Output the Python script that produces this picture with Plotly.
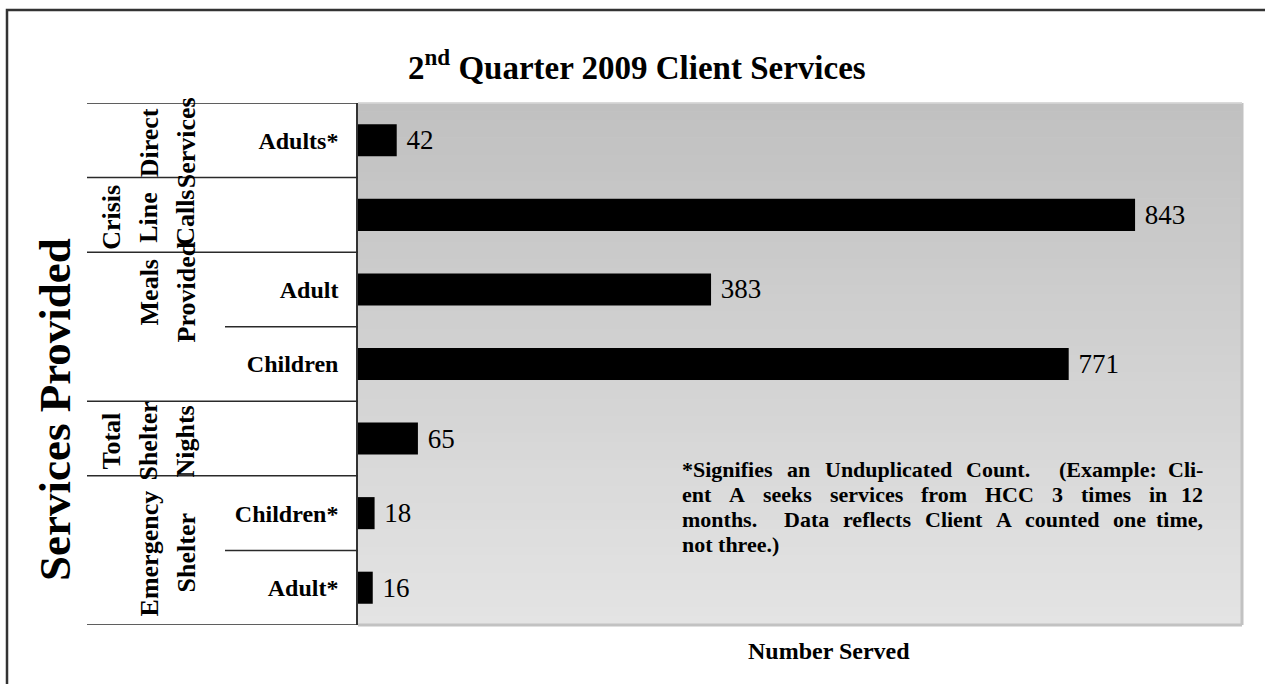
import plotly.graph_objects as go

# ---- data ----
row_labels = ["Adults*", "", "Adult", "Children", "", "Children*", "Adult*"]
values = [42, 843, 383, 771, 65, 18, 16]
value_text = ["42", "843", "383", "771", "65", "18", "16"]
# group label words (rotated), first row index, last row index
groups = [
    (["Direct", "Services"], 0, 0),
    (["Crisis", "Line", "Calls"], 1, 1),
    (["Meals", "Provided"], 2, 3),
    (["Total", "Shelter", "Nights"], 4, 4),
    (["Emergency", "Shelter"], 5, 6),
]
title_html = "2<sup>nd</sup> Quarter 2009 Client Services"
x_title = "Number Served"
y_title = "Services Provided"
note_lines = [
    "*Signifies an Unduplicated Count.  (Example: Cli-",
    "ent A seeks services from HCC 3 times in 12",
    "months.  Data reflects Client A counted one time,",
    "not three.)",
]

# ---- layout geometry (pixels) ----
W, H = 1265, 684
L, R, T, B = 358, 1242, 103, 625
pw, ph = R - L, B - T


def px2x(px):
    return (px - L) / pw


def py2y(py):
    return 1 - (py - T) / ph


SERIF = "Liberation Serif"
n = len(values)
ys = list(range(n))

# Times bold advance widths (1/1000 em) for justifying the note text
TB = {" ": 250, "!": 333, "(": 333, ")": 333, "*": 500, ",": 250, "-": 333, ".": 250,
      ":": 333, "A": 722, "C": 722, "D": 722, "E": 667, "H": 778, "S": 556, "U": 722,
      "a": 500, "b": 556, "c": 444, "d": 556, "e": 444, "f": 333, "g": 500, "h": 556,
      "i": 278, "j": 333, "k": 556, "l": 278, "m": 833, "n": 556, "o": 500, "p": 556,
      "q": 556, "r": 444, "s": 389, "t": 333, "u": 556, "v": 500, "w": 722, "x": 500,
      "y": 500}


def text_w(s, size):
    return sum(TB.get(ch, 500) for ch in s) * size / 1000


fig = go.Figure()
fig.add_trace(go.Bar(
    x=values, y=ys, orientation="h",
    marker=dict(color="black", line=dict(width=0)),
    width=0.43,
    text=["\u00a0" + t for t in value_text], textposition="outside",
    textfont=dict(family=SERIF, size=27, color="black"),
    cliponaxis=False,
    hoverinfo="skip",
))

shapes = []
# gradient background of plot area
nb = 60
top_c, bot_c = 192, 228
for i in range(nb):
    c = round(top_c + (bot_c - top_c) * (i + 0.5) / nb)
    shapes.append(dict(type="rect", xref="paper", yref="paper",
                       x0=0, x1=1, y0=1 - (i + 1) / nb, y1=1 - i / nb + 0.001,
                       fillcolor=f"rgb({c},{c},{c})", line=dict(width=0),
                       layer="below"))
# plot area border (light gray)
shapes.append(dict(type="line", xref="paper", yref="paper", x0=1, x1=1, y0=0, y1=1,
                   line=dict(color="#c2c2c2", width=3)))
shapes.append(dict(type="line", xref="paper", yref="paper", x0=0, x1=1, y0=0, y1=0,
                   line=dict(color="#c2c2c2", width=3)))
shapes.append(dict(type="line", xref="paper", yref="paper", x0=0, x1=1, y0=1, y1=1,
                   line=dict(color="#d8d8d8", width=1.5)))

# table lines on the left
left_full = px2x(87)
left_inner = px2x(225)
boundaries = [-0.5]
inner = set()
for words, r0, r1 in groups:
    for r in range(r0, r1):
        inner.add(r + 0.5)
    boundaries.append(r1 + 0.5)
for b in sorted(set(boundaries) | inner):
    x0 = left_inner if b in inner else left_full
    shapes.append(dict(type="line", xref="paper", yref="y", x0=x0, x1=0, y0=b, y1=b,
                       line=dict(color="#2a2a2a", width=1.5)))

# outer frame
shapes.append(dict(type="rect", xref="paper", yref="paper",
                   x0=px2x(7), x1=px2x(1300), y0=py2y(720), y1=py2y(10),
                   line=dict(color="#333333", width=2.5), fillcolor="rgba(0,0,0,0)"))

annotations = []
# group words, rotated, right-aligned to column grid
col_x = [112, 149, 186]
for words, r0, r1 in groups:
    yc = (r0 + r1) / 2
    if r1 > r0 and words[0] == "Meals":
        yc = r0
    start = len(col_x) - len(words)
    for k, w in enumerate(words):
        annotations.append(dict(
            x=px2x(col_x[start + k]), y=yc, xref="paper", yref="y", yshift=-3,
            text=f"<b>{w}</b>", textangle=-90, showarrow=False,
            font=dict(family=SERIF, size=26, color="black"),
            xanchor="center", yanchor="middle"))

# title
annotations.append(dict(x=px2x(637), y=py2y(65), xref="paper", yref="paper",
                        text=f"<b>{title_html}</b>", showarrow=False,
                        font=dict(family=SERIF, size=33, color="black"),
                        xanchor="center", yanchor="middle"))
# axis titles
annotations.append(dict(x=px2x(829), y=py2y(651), xref="paper", yref="paper",
                        text=f"<b>{x_title}</b>", showarrow=False,
                        font=dict(family=SERIF, size=24, color="black"),
                        xanchor="center", yanchor="middle"))
annotations.append(dict(x=px2x(55), y=py2y(410), xref="paper", yref="paper",
                        text=f"<b>{y_title}</b>", textangle=-90, showarrow=False,
                        font=dict(family=SERIF, size=45, color="black"),
                        xanchor="center", yanchor="middle"))

# note text, justified between x=680 and x=1205 (last line left aligned)
NOTE_SIZE = 22
nx0, nx1 = 680, 1205
for k, line in enumerate(note_lines):
    yy = py2y(469 + 25 * k)
    words = line.split(" ")
    if k == len(note_lines) - 1:
        annotations.append(dict(x=px2x(nx0), y=yy, xref="paper", yref="paper",
                                text=f"<b>{line}</b>", showarrow=False,
                                font=dict(family=SERIF, size=NOTE_SIZE, color="black"),
                                xanchor="left", yanchor="middle"))
        continue
    toks = [w for w in words if w]
    nspaces = len(words) - 1
    gaps = []
    cnt = 0
    for w in words[1:]:
        cnt += 1
        if w:
            gaps.append(cnt)
            cnt = 0
    total_w = sum(text_w(t, NOTE_SIZE) for t in toks)
    space_w = (nx1 - nx0 - total_w) / nspaces
    x = nx0
    for i, t in enumerate(toks):
        last = i == len(toks) - 1
        annotations.append(dict(x=px2x(nx1 if last else x), y=yy, xref="paper", yref="paper",
                                text=f"<b>{t}</b>", showarrow=False,
                                font=dict(family=SERIF, size=NOTE_SIZE, color="black"),
                                xanchor="right" if last else "left", yanchor="middle"))
        if not last:
            x += text_w(t, NOTE_SIZE) + space_w * gaps[i]

tick_rows = [i for i, t in enumerate(row_labels) if t]
fig.update_layout(
    width=W, height=H,
    margin=dict(l=L, r=W - R, t=T, b=H - B, pad=0),
    paper_bgcolor="white", plot_bgcolor="rgb(210,210,210)",
    showlegend=False,
    shapes=shapes, annotations=annotations,
    xaxis=dict(range=[0, 959], showgrid=False, zeroline=False, showticklabels=False,
               ticks="", showline=False, fixedrange=True),
    yaxis=dict(range=[n - 0.5, -0.5], tickmode="array", tickvals=tick_rows,
               ticktext=[f"<b>{row_labels[i]}</b>" for i in tick_rows],
               tickfont=dict(family=SERIF, size=24, color="black"),
               ticks="outside", ticklen=13, tickcolor="rgba(0,0,0,0)",
               showgrid=False, zeroline=False,
               showline=True, linecolor="#333333", linewidth=1.5, fixedrange=True),
)

fig.write_html("out.html", config={"displayModeBar": False},
               post_script="document.body.style.margin='0';document.body.style.padding='0';")
